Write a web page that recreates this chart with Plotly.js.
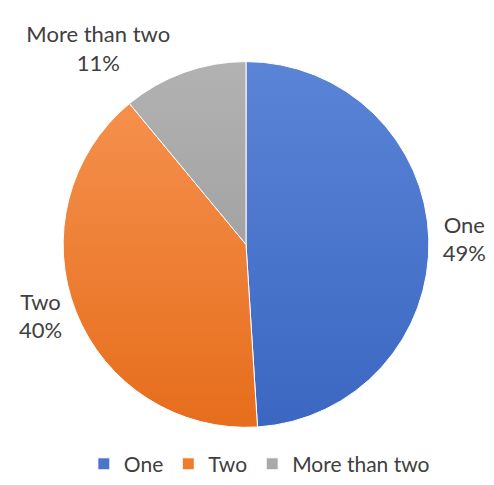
<!DOCTYPE html>
<html><head><meta charset="utf-8">
<script src="https://cdn.plot.ly/plotly-3.0.1.min.js"></script>
<style>body{margin:0;background:#fff}#c{width:494px;height:485px}</style>
</head><body><div id="c"></div>
<script>
const categories = ["One", "Two", "More than two"];
const values = [49, 40, 11];
const colors = ["#4A75CB", "#EF7B2D", "#A9A9A9"];
const gradTop = ["#5A84D6", "#F5904C", "#B2B2B2"];
const gradBottom = ["#3B67C2", "#E66D1C", "#A3A3A3"];

const FONT = "Lato, 'Open Sans', sans-serif";

const trace = {
  type: "pie",
  labels: categories,
  values: values,
  sort: false,
  direction: "clockwise",
  rotation: 0,
  marker: {colors: colors, line: {color: "#ffffff", width: 1}},
  texttemplate: "%{label}<br>%{percent:.0%}",
  textposition: "outside",
  outsidetextfont: {family: FONT, size: 22, color: "#404040"},
  hoverinfo: "none",
  domain: {x: [0.1255, 0.8705], y: [0.1134, 0.8722]}
};

const layout = {
  width: 494, height: 485,
  margin: {l: 0, r: 0, t: 0, b: 0},
  paper_bgcolor: "#ffffff",
  showlegend: true,
  legend: {orientation: "h", x: 0.525, xanchor: "center", y: 0.037, yanchor: "middle",
    font: {family: FONT, size: 21, color: "#404040"}, traceorder: "normal", itemwidth: 30},
  font: {family: FONT}
};

Plotly.newPlot("c", [trace], layout, {displayModeBar: false, staticPlot: true}).then(function (gd) {
  try {
    const svg = gd.querySelector("svg.main-svg");
    const ns = "http://www.w3.org/2000/svg";
    let defs = svg.querySelector("defs");
    if (!defs) { defs = document.createElementNS(ns, "defs"); svg.insertBefore(defs, svg.firstChild); }
    categories.forEach(function (c, i) {
      const g = document.createElementNS(ns, "linearGradient");
      g.setAttribute("id", "sliceGrad" + i);
      g.setAttribute("x1", "0"); g.setAttribute("y1", "0");
      g.setAttribute("x2", "0"); g.setAttribute("y2", "1");
      [[0, gradTop[i]], [1, gradBottom[i]]].forEach(function (s) {
        const st = document.createElementNS(ns, "stop");
        st.setAttribute("offset", s[0]); st.setAttribute("stop-color", s[1]);
        g.appendChild(st);
      });
      defs.appendChild(g);
    });
    gd.querySelectorAll("g.slice path.surface").forEach(function (p, i) {
      p.style.fill = "url(#sliceGrad" + i + ")";
    });
  } catch (e) {}
});
</script></body></html>
